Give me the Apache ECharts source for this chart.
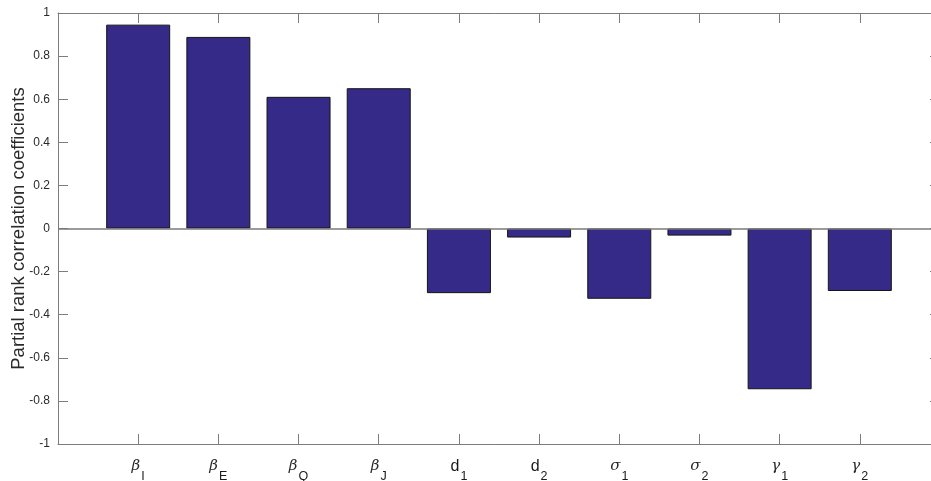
<!DOCTYPE html>
<html><head><meta charset="utf-8">
<script src="https://cdn.jsdelivr.net/npm/echarts@6/dist/echarts.min.js"></script>
<style>html,body{margin:0;padding:0;background:#fff}#c{width:931px;height:481px}</style>
</head><body><div id="c"></div>
<script>
// Category labels: [symbol, subscript, isGreek]
const catSymbols = ['β','β','β','β','d','d','σ','σ','γ','γ'];
const catSubs = ['I','E','Q','J','1','2','1','2','1','2'];
const catGreek = [true,true,true,true,false,false,true,true,true,true];
const prcc = [0.946, 0.889, 0.611, 0.651, -0.300, -0.042, -0.326, -0.033, -0.746, -0.290];
const yTicks = [-1, -0.8, -0.6, -0.4, -0.2, 0, 0.2, 0.4, 0.6, 0.8, 1];

const chart = echarts.init(document.getElementById('c'));
const axisColor = '#7c7c7c';
const data = prcc.map((v, i) => [i + 1, v]);
const tickStyle = { inside: true, length: 10, lineStyle: { color: axisColor } };
chart.setOption({
  animation: false,
  grid: { left: 58, top: 13, right: -9, bottom: 37, containLabel: false, outerBoundsMode: 'none' },
  xAxis: [{
    type: 'value', min: 0, max: 11, interval: 1, position: 'bottom',
    axisLine: { onZero: false, lineStyle: { color: axisColor } },
    axisTick: tickStyle,
    splitLine: { show: false },
    axisLabel: {
      margin: 15,
      formatter: function (v) {
        const i = Math.round(v) - 1;
        if (i < 0 || i >= catSymbols.length) return '';
        const s = catGreek[i] ? '{g|' + catSymbols[i] + '}' : '{d|' + catSymbols[i] + '}';
        return s + '{s|' + catSubs[i] + '}';
      },
      rich: {
        g: { fontFamily: 'DejaVu Serif', fontStyle: 'italic', fontSize: 15, color: '#2a2a2a', verticalAlign: 'top' },
        d: { fontFamily: 'Liberation Sans', fontSize: 16, color: '#1a1a1a', verticalAlign: 'top' },
        s: { fontFamily: 'Liberation Sans', fontSize: 12.5, color: '#1a1a1a', verticalAlign: 'bottom', padding: [11, 0, 0, 1] }
      }
    }
  }, {
    type: 'value', min: 0, max: 11, interval: 1, position: 'top',
    axisLine: { onZero: false, lineStyle: { color: axisColor } },
    axisTick: tickStyle,
    axisLabel: { show: false }, splitLine: { show: false }
  }],
  yAxis: [{
    type: 'value', min: -1, max: 1, interval: 0.2, position: 'left',
    name: 'Partial rank correlation coefficients', nameLocation: 'middle', nameGap: 30,
    nameMoveOverlap: false,
    nameTextStyle: { fontFamily: 'Liberation Sans', fontSize: 18.5, color: '#2a2a2a' },
    axisLine: { show: true, onZero: false, lineStyle: { color: axisColor } },
    axisTick: Object.assign({ show: true }, tickStyle),
    splitLine: { show: false },
    axisLabel: { fontFamily: 'Liberation Sans', fontSize: 12, color: '#2a2a2a', margin: 8,
      formatter: v => String(Math.round(v * 10) / 10) }
  }, {
    type: 'value', min: -1, max: 1, interval: 0.2, position: 'right',
    axisLine: { show: true, onZero: false, lineStyle: { color: axisColor } },
    axisTick: Object.assign({ show: true }, tickStyle),
    splitLine: { show: false }, axisLabel: { show: false }
  }],
  series: [{
    type: 'bar', data: data, barWidth: 64, xAxisIndex: 0, yAxisIndex: 0,
    itemStyle: { color: '#352a87', borderColor: '#151515', borderWidth: 1 },
    markLine: {
      silent: true, symbol: 'none', label: { show: false },
      lineStyle: { color: '#7a7a7a', type: 'solid', width: 1.5 },
      data: [{ yAxis: 0 }]
    },
    z: 2
  }]
});
</script></body></html>
